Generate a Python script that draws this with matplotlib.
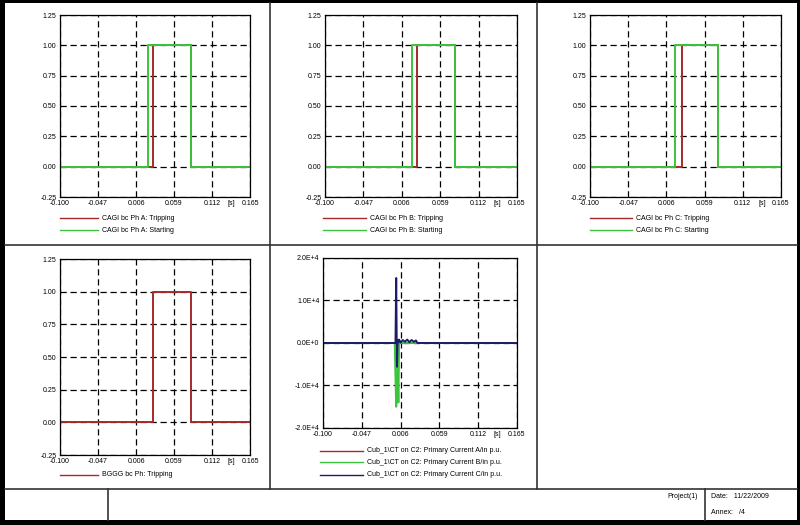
import numpy as np
import matplotlib
matplotlib.use("Agg")
import matplotlib.pyplot as plt
from matplotlib.lines import Line2D
from matplotlib.patches import Rectangle

plt.rcParams['font.family'] = ['Liberation Sans', 'DejaVu Sans']

W, H = 800, 525

# x axis of every panel (time in s)
x_ticks = [-0.100, -0.047, 0.006, 0.059, 0.112, 0.165]
x_labels = ['-0.100', '-0.047', '0.006', '0.059', '0.112', '0.165']

# relay signals
phases = ['A', 'B', 'C']
start_on = [0.023, 0.020, 0.018]
start_off = [0.083, 0.079, 0.077]
trip_on = [0.030, 0.027, 0.027]
trip_off = [0.083, 0.079, 0.077]

bggg_on = 0.030
bggg_off = 0.083

# currents on the CT (primary, p.u.)
t_cur = [-0.100, -0.002, -0.001, 0.000, 0.001, 0.002, 0.003, 0.004, 0.006,
         0.009, 0.012, 0.015, 0.018, 0.021, 0.024, 0.027, 0.029, 0.165]
i_a = [0, 0, 0, 300, -200, 100, 0, 0, 0, 0, 0, 0, 0, 0, 0, 0, 0, 0]
i_b = [0, 0, -8000, -15000, -12000, -4000, -14000, 0, 0, 0, 0, 0, 0, 0, 0, 0, 0, 0]
i_c = [0, 0, 0, 15300, -5600, 700, 200, 800, 100, 700, 300, 800, 200, 700, 300, 600, 0, 0]

red = '#a52a2a'
green = '#3cc43c'
blue = '#1c1c6a'


def px(x):
    return x / W


def py(y):
    return 1 - y / H


def make_axes(left, top, right, bottom):
    return fig.add_axes([px(left), py(bottom), (right - left) / W, (bottom - top) / H])


def style_axes(ax, ylim, yticks, ylabels):
    ax.set_xlim(x_ticks[0], x_ticks[-1])
    ax.set_ylim(*ylim)
    ax.set_xticks(x_ticks)
    ax.set_xticklabels(x_labels)
    ax.set_yticks(yticks)
    ax.set_yticklabels(ylabels)
    ax.set_axisbelow(True)
    ax.grid(True, color='black', linestyle=(0, (5, 3)), linewidth=0.9)
    ax.tick_params(labelsize=5, length=0, pad=2.5)
    for s in ax.spines.values():
        s.set_linewidth(0.9)
    # unit sits on the tick label row, between the last two labels
    ax.annotate('[s]', xy=(0.1385, 0), xycoords=('data', 'axes fraction'),
                xytext=(0, -2.5), textcoords='offset points',
                fontsize=5, ha='center', va='top')


def step_series(on, off):
    t = [x_ticks[0], on, on, off, off, x_ticks[-1]]
    v = [0, 0, 1, 1, 0, 0]
    return t, v


def legend_entry(x0, x1, y, color, label):
    fig.add_artist(Line2D([px(x0), px(x1)], [py(y), py(y)], color=color, lw=1.0,
                          transform=fig.transFigure))
    fig.text(px(x1 + 4), py(y), label, fontsize=5, va='center', ha='left')


fig = plt.figure(figsize=(W / 100, H / 100), dpi=100)
fig.patch.set_facecolor('black')
fig.add_artist(Rectangle((px(5), py(520)), (797 - 5) / W, (520 - 3) / H,
                         transform=fig.transFigure, facecolor='white', edgecolor='none',
                         zorder=-10))

# frame lines
def hline(y, x0, x1):
    fig.add_artist(Line2D([px(x0), px(x1)], [py(y), py(y)], color='#333333', lw=1.2,
                          transform=fig.transFigure))


def vline(x, y0, y1):
    fig.add_artist(Line2D([px(x), px(x)], [py(y0), py(y1)], color='#333333', lw=1.2,
                          transform=fig.transFigure))


hline(245, 5, 797)
hline(489, 5, 797)
vline(270, 3, 489)
vline(537, 3, 489)
vline(108, 489, 520)
vline(705, 489, 520)

rel_ticks = [-0.25, 0, 0.25, 0.5, 0.75, 1.0, 1.25]
rel_labels = ['-0.25', '0.00', '0.25', '0.50', '0.75', '1.00', '1.25']

panels = [(60, 15, 250, 197), (325, 15, 517, 197), (590, 15, 781, 197)]
leg_x = [(60, 98), (323, 366), (590, 632)]
for k in range(3):
    ax = make_axes(*panels[k])
    ts, vs = step_series(trip_on[k], trip_off[k])
    ax.plot(ts, vs, color=red, lw=1.4)
    ts, vs = step_series(start_on[k], start_off[k])
    ax.plot(ts, vs, color=green, lw=1.4)
    style_axes(ax, (-0.25, 1.25), rel_ticks, rel_labels)
    legend_entry(leg_x[k][0], leg_x[k][1], 218, red, 'CAGI bc Ph %s: Tripping' % phases[k])
    legend_entry(leg_x[k][0], leg_x[k][1], 230, green, 'CAGI bc Ph %s: Starting' % phases[k])

# BGGG trip
ax = make_axes(60, 259, 250, 455)
ts, vs = step_series(bggg_on, bggg_off)
ax.plot(ts, vs, color=red, lw=1.4)
style_axes(ax, (-0.25, 1.25), rel_ticks, rel_labels)
legend_entry(60, 98, 475, red, 'BGGG bc Ph: Tripping')

# CT currents
ax = make_axes(323, 258, 517, 428)
ax.plot(t_cur, i_a, color=red, lw=1.4)
ax.plot(t_cur, i_b, color=green, lw=1.4)
ax.plot(t_cur, i_c, color=blue, lw=1.4)
style_axes(ax, (-20000, 20000), [-20000, -10000, 0, 10000, 20000],
           ['-2.0E+4', '-1.0E+4', '0.0E+0', '1.0E+4', '2.0E+4'])
legend_entry(320, 363, 451, red, 'Cub_1\\CT on C2: Primary Current A/in p.u.')
legend_entry(320, 363, 462, green, 'Cub_1\\CT on C2: Primary Current B/in p.u.')
legend_entry(320, 363, 475, blue, 'Cub_1\\CT on C2: Primary Current C/in p.u.')

# title block
fig.text(px(698), py(497), 'Project(1)', fontsize=5, ha='right', va='center')
fig.text(px(711), py(497), 'Date:   11/22/2009', fontsize=5, ha='left', va='center')
fig.text(px(711), py(512), 'Annex:   /4', fontsize=5, ha='left', va='center')

fig.savefig('out.png', dpi=100, facecolor=fig.get_facecolor())
